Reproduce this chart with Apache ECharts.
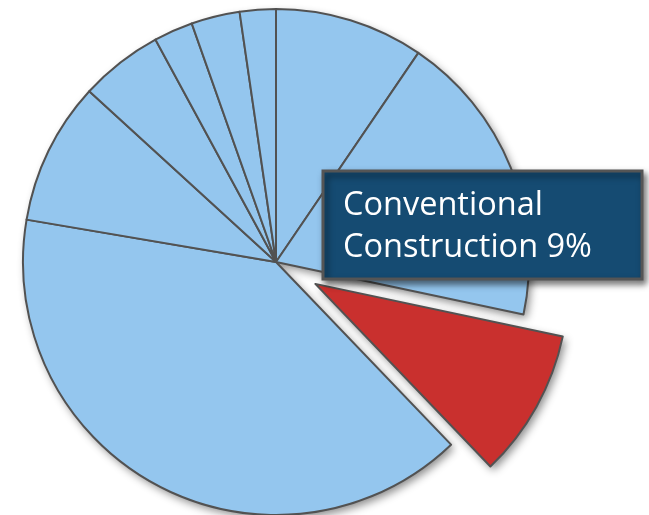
<!DOCTYPE html>
<html>
<head>
<meta charset="utf-8">
<script src="https://cdn.jsdelivr.net/npm/echarts@6/dist/echarts.min.js"></script>
<style>
  html, body { margin: 0; padding: 0; background: #ffffff; }
  #chart { width: 649px; height: 515px; }
</style>
</head>
<body>
<div id="chart"></div>
<script>
// Slices clockwise from 12 o'clock
const categories = ['Segment 1', 'Segment 2', 'Conventional Construction', 'Segment 4', 'Segment 5', 'Segment 6', 'Segment 7', 'Segment 8', 'Segment 9'];
const values = [9.5, 18.8, 9.5, 39.8, 9.1, 5.3, 2.5, 3.1, 2.3];
const highlightIndex = 2;
const highlightLabelLines = ['Conventional', 'Construction 9%'];

const BLUE = '#94c6ee';
const RED = '#c9302e';
const EDGE = '#525252';

const chart = echarts.init(document.getElementById('chart'), null, { renderer: 'canvas' });

function buildData(withBorder) {
  return categories.map((name, i) => ({
    name: name,
    value: values[i],
    selected: i === highlightIndex,
    itemStyle: {
      color: i === highlightIndex ? RED : BLUE,
      borderColor: withBorder ? EDGE : 'transparent',
      borderWidth: withBorder ? 2 : 0,
      borderJoin: 'round'
    }
  }));
}

const common = {
  type: 'pie',
  center: [276, 262],
  radius: [0, 253],
  startAngle: 90,
  clockwise: true,
  selectedMode: 'multiple',
  selectedOffset: 45,
  avoidLabelOverlap: false,
  label: { show: false },
  labelLine: { show: false },
  animation: false,
  silent: true,
  emphasis: { disabled: true }
};

chart.setOption({
  backgroundColor: '#ffffff',
  series: [
    Object.assign({}, common, {
      z: 1,
      data: buildData(false).map(d => {
        d.itemStyle.shadowBlur = 8;
        d.itemStyle.shadowColor = 'rgba(0,0,0,0.45)';
        d.itemStyle.shadowOffsetX = 3;
        d.itemStyle.shadowOffsetY = 4;
        return d;
      })
    }),
    Object.assign({}, common, {
      z: 2,
      data: buildData(true)
    })
  ],
  graphic: [
    {
      type: 'rect',
      z: 10,
      shape: { x: 323, y: 171, width: 319, height: 108 },
      style: {
        fill: '#154b72',
        stroke: '#555555',
        lineWidth: 3,
        shadowBlur: 6,
        shadowColor: 'rgba(0,0,0,0.5)',
        shadowOffsetX: 3,
        shadowOffsetY: 4
      }
    },
    {
      type: 'text',
      z: 11,
      x: 343,
      y: 206,
      style: {
        text: highlightLabelLines[0],
        fill: '#ffffff',
        font: '32.5px "Open Sans"',
        verticalAlign: 'middle',
        align: 'left'
      }
    },
    {
      type: 'text',
      z: 11,
      x: 343,
      y: 248,
      style: {
        text: highlightLabelLines[1],
        fill: '#ffffff',
        font: '32.5px "Open Sans"',
        verticalAlign: 'middle',
        align: 'left'
      }
    }
  ]
});
</script>
</body>
</html>
